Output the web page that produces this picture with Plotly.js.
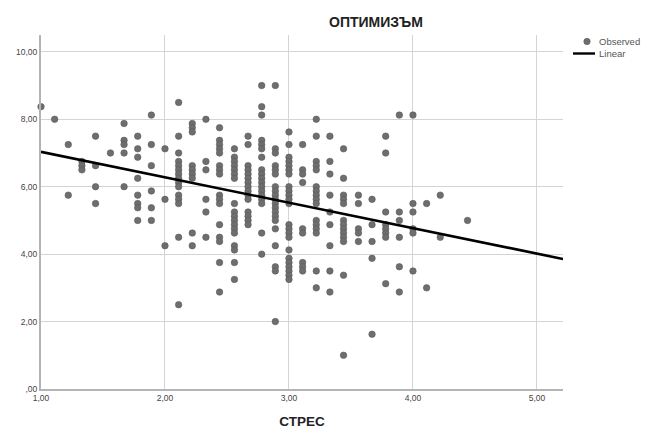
<!DOCTYPE html>
<html>
<head>
<meta charset="utf-8">
<script src="https://cdn.plot.ly/plotly-3.0.1.min.js"></script>
<style>html,body{margin:0;padding:0;background:#fff;}#chart{width:646px;height:432px;}</style>
</head>
<body>
<div id="chart"></div>
<script>
// Stress (СТРЕС) levels observed in the scatter
const stressLevels = [1.00, 1.11, 1.22, 1.33, 1.44, 1.56, 1.67, 1.78, 1.89, 2.00,
  2.11, 2.22, 2.33, 2.44, 2.56, 2.67, 2.78, 2.89, 3.00, 3.11,
  3.22, 3.33, 3.44, 3.56, 3.67, 3.78, 3.89, 4.00, 4.11, 4.22, 4.44];
// Optimism (ОПТИМИЗЪМ) values at each stress level
const optimismByLevel = [
  [8.375],
  [8.0],
  [7.25, 5.75],
  [6.75, 6.625, 6.5],
  [7.5, 6.625, 6.0, 5.5],
  [7.0],
  [7.875, 7.375, 7.25, 7.0, 6.0],
  [7.5, 7.125, 6.875, 6.25, 5.75, 5.5, 5.375, 5.0],
  [8.125, 7.25, 6.625, 5.875, 5.375, 5.0],
  [7.125, 5.625, 4.25],
  [8.5, 7.5, 7.0, 6.75, 6.625, 6.5, 6.375, 6.25, 6.125, 6.0, 5.75, 5.625, 5.5, 4.5, 2.5],
  [7.875, 7.75, 7.625, 6.625, 6.5, 6.375, 6.25, 4.625, 4.25],
  [8.0, 6.75, 6.5, 5.625, 5.25, 4.5],
  [7.75, 7.375, 7.25, 7.125, 7.0, 6.625, 6.5, 6.375, 5.75, 5.625, 5.5, 4.875, 4.5, 4.375, 3.75, 2.875],
  [7.125, 6.875, 6.75, 6.625, 6.5, 6.375, 6.25, 5.5, 5.25, 5.125, 5.0, 4.875, 4.75, 4.625, 4.25, 4.125, 3.75, 3.25],
  [7.5, 7.25, 6.625, 6.5, 6.375, 6.25, 6.125, 6.0, 5.875, 5.75, 5.625, 5.25, 5.125, 5.0, 4.875],
  [9.0, 8.375, 8.125, 7.375, 7.25, 7.125, 6.875, 6.5, 6.375, 6.25, 6.125, 6.0, 5.875, 5.75, 5.625, 5.5, 4.625, 4.0],
  [9.0, 7.125, 7.0, 6.625, 6.5, 6.375, 6.0, 5.875, 5.75, 5.625, 5.5, 5.375, 5.25, 5.125, 5.0, 4.75, 4.25, 3.625, 3.5, 2.0],
  [7.625, 7.25, 6.875, 6.75, 6.625, 6.5, 6.375, 6.0, 5.875, 5.75, 5.625, 5.5, 4.875, 4.75, 4.625, 4.5, 4.125, 3.875, 3.75, 3.625, 3.5, 3.375, 3.25],
  [7.25, 6.5, 6.375, 6.125, 4.75, 4.625, 3.75, 3.625, 3.5],
  [8.0, 7.5, 6.75, 6.625, 6.5, 6.0, 5.875, 5.75, 5.625, 5.5, 5.0, 4.875, 4.75, 4.625, 3.5, 3.0],
  [7.5, 6.75, 6.375, 5.75, 5.25, 4.875, 4.25, 3.5, 2.875],
  [7.125, 6.25, 5.75, 5.625, 5.5, 5.0, 4.875, 4.75, 4.625, 4.5, 4.375, 3.375, 1.0],
  [5.75, 5.5, 4.75, 4.625, 4.375],
  [5.625, 4.875, 4.375, 3.875, 1.625],
  [7.5, 7.0, 5.25, 4.875, 4.75, 4.625, 4.5, 3.125],
  [8.125, 5.25, 5.0, 4.5, 3.625, 2.875],
  [8.125, 5.5, 5.25, 4.75, 4.625, 3.5],
  [5.5, 3.0],
  [5.75, 4.5],
  [5.0]
];
// Linear fit
const fitIntercept = 7.79;
const fitSlope = -0.755;
const fitRange = [1.0, 5.21];

const xTickVals = [1, 2, 3, 4, 5];
const xTickText = ['1,00', '2,00', '3,00', '4,00', '5,00'];
const yTickVals = [0, 2, 4, 6, 8, 10];
const yTickText = [',00', '2,00', '4,00', '6,00', '8,00', '10,00'];
const legendNames = ['Observed', 'Linear'];

const stress = [];
const optimism = [];
stressLevels.forEach((s, i) => {
  optimismByLevel[i].forEach(v => { stress.push(s); optimism.push(v); });
});
const fitY = fitRange.map(x => fitIntercept + fitSlope * x);

const FAM = 'Liberation Sans, Arial, sans-serif';
const dotColor = '#6e6e6e';

const traces = [
  {
    type: 'scatter', mode: 'markers', name: legendNames[0],
    x: stress, y: optimism,
    marker: {color: dotColor, size: 6.5, line: {color: '#5a5a5a', width: 0.6}},
    cliponaxis: false
  },
  {
    type: 'scatter', mode: 'lines', name: legendNames[1],
    x: fitRange, y: fitY,
    line: {color: '#000', width: 2.6}
  }
];

// plot area in pixels: left 41, right 563, top 35, bottom 389
const PL = 41, PR = 563, PT = 35, PB = 389;
const px2x = p => (p - PL) / (PR - PL);
const py2y = p => (PB - p) / (PB - PT);

const layout = {
  width: 646, height: 432,
  paper_bgcolor: '#fff', plot_bgcolor: '#fff',
  margin: {l: PL, r: 646 - PR, t: PT, b: 432 - PB, pad: 0},
  showlegend: false,
  title: {text: '<b>ОПТИМИЗЪМ</b>', font: {family: FAM, size: 14, color: '#222'},
          x: 376 / 646, xanchor: 'center', xref: 'container',
          y: 1 - 22 / 432, yanchor: 'middle', yref: 'container'},
  xaxis: {
    range: [1.0, 5.21], tickvals: xTickVals, ticktext: xTickText,
    showgrid: true, gridcolor: '#d4d4d4', gridwidth: 1,
    zeroline: false, showline: true, linecolor: '#b4b4b4', linewidth: 2,
    ticks: '', tickfont: {family: FAM, size: 8.5, color: '#444'},
    title: {text: '<b>СТРЕС</b>', font: {family: FAM, size: 13.5, color: '#222'}, standoff: 14}
  },
  yaxis: {
    range: [0, 10.5], tickvals: yTickVals, ticktext: yTickText,
    showgrid: true, gridcolor: '#d4d4d4', gridwidth: 1,
    zeroline: false, showline: true, linecolor: '#b4b4b4', linewidth: 2,
    ticks: '', tickfont: {family: FAM, size: 8.5, color: '#444'}
  },
  shapes: [
    {type: 'circle', xref: 'paper', yref: 'paper', xsizemode: 'pixel', ysizemode: 'pixel',
     xanchor: px2x(587), yanchor: py2y(41.5), x0: -3.2, x1: 3.2, y0: -3.2, y1: 3.2,
     fillcolor: dotColor, line: {color: '#5a5a5a', width: 0.6}},
    {type: 'line', xref: 'paper', yref: 'paper',
     x0: px2x(573), x1: px2x(595), y0: py2y(53.5), y1: py2y(53.5),
     line: {color: '#000', width: 2.4}}
  ],
  annotations: [
    {xref: 'paper', yref: 'paper', x: px2x(597), y: py2y(41.5), xanchor: 'left', yanchor: 'middle',
     text: legendNames[0], showarrow: false, font: {family: FAM, size: 9.5, color: '#555'}},
    {xref: 'paper', yref: 'paper', x: px2x(597), y: py2y(53.5), xanchor: 'left', yanchor: 'middle',
     text: legendNames[1], showarrow: false, font: {family: FAM, size: 9.5, color: '#555'}}
  ]
};

Plotly.newPlot('chart', traces, layout, {displayModeBar: false, staticPlot: true});
</script>
</body>
</html>
